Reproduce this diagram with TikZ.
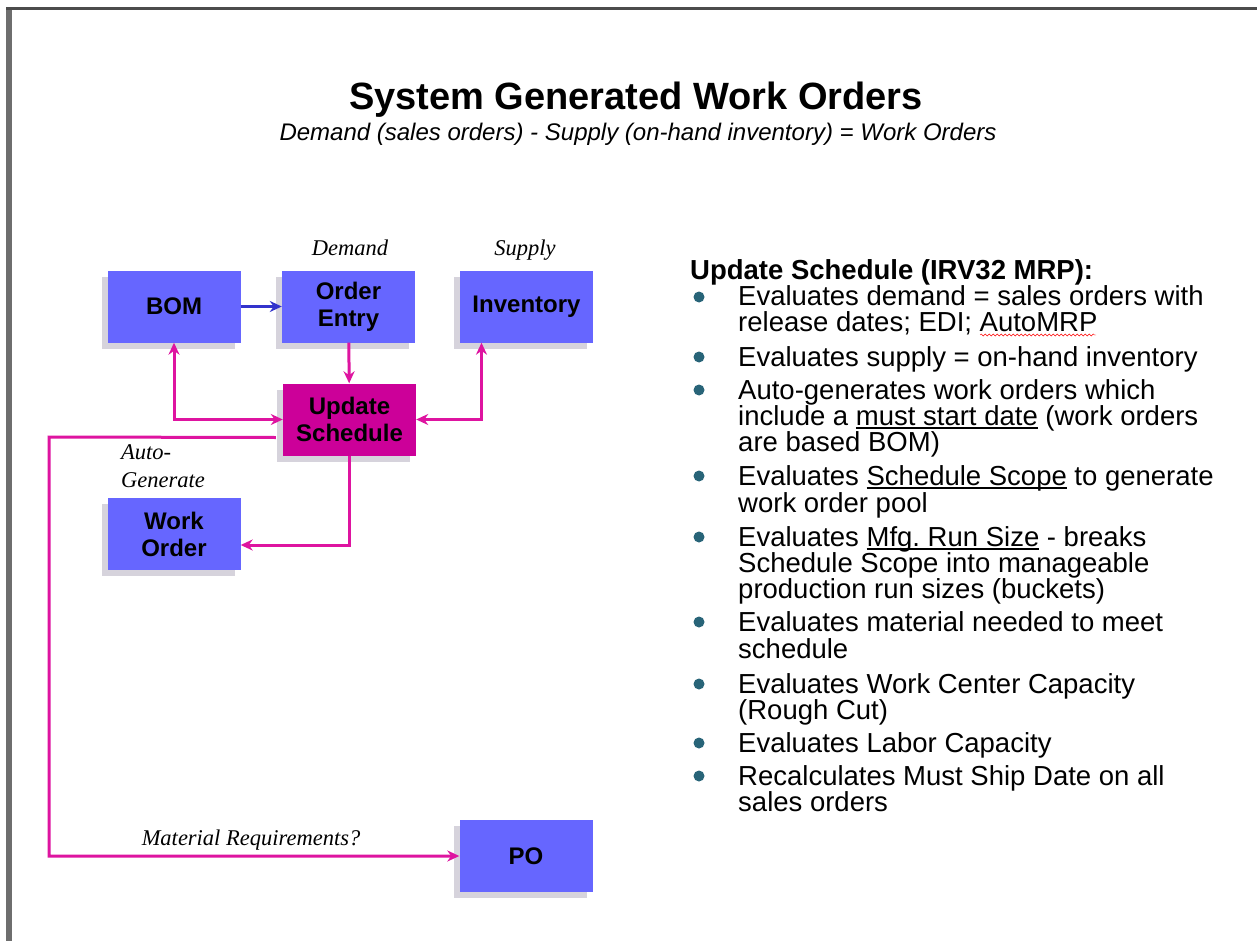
\documentclass[tikz,border=0pt]{standalone}
\usepackage{fontspec}
\setmainfont{Liberation Sans}
\newfontfamily\notefont{Liberation Serif}
\usetikzlibrary{shadows,arrows.meta,decorations.pathmorphing}

\definecolor{boxblue}{RGB}{102,102,255}
\definecolor{schedmag}{RGB}{204,0,153}
\definecolor{linkmag}{RGB}{222,20,160}
\definecolor{linkblue}{RGB}{51,51,204}
\definecolor{shadegray}{RGB}{214,211,220}
\definecolor{dotteal}{RGB}{40,100,120}
\definecolor{framegray}{RGB}{110,110,110}

% underline sitting just below the baseline
\newcommand{\undr}[1]{\setbox0\hbox{#1}\rlap{\rule[-3.5pt]{\wd0}{1.6pt}}\box0\relax}

\begin{document}
\begin{tikzpicture}[x=1pt,y=-1pt,>={Stealth[length=12pt,width=11pt]},
  blk/.style={fill=boxblue,minimum width=133pt,minimum height=72pt,inner sep=0pt,align=center,
    font=\fontsize{24}{27}\selectfont\bfseries,
    drop shadow={shadow xshift=-6pt,shadow yshift=-6pt,fill=shadegray,opacity=1}},
  pink/.style={draw=linkmag,line width=3pt},
  note/.style={font=\notefont\itshape\fontsize{22.5}{26}\selectfont,inner sep=0pt},
  bline/.style={anchor=base west,inner sep=0pt,font=\fontsize{27.5}{27.5}\selectfont}]
\useasboundingbox (0,0) rectangle (1257,941);
\fill[white] (0,0) rectangle (1257,941);
% slide frame
\fill[framegray] (6,7) rectangle (12,941);
\fill[black!70] (6,7) rectangle (1257,10);
% title
\node[anchor=base,font=\fontsize{38}{40}\selectfont\bfseries] (title) at (636,110) {System Generated Work Orders};
\node[anchor=base,font=\fontsize{24}{26}\selectfont\itshape] (sub) at (638,141) {Demand (sales orders) - Supply (on-hand inventory) = Work Orders};
% boxes
\node[blk] (bom) at (174,306.5) {BOM};
\node[blk] (entry) at (348.5,306.5) {Order\\Entry};
\node[blk] (inv) at (526.5,306.5) {Inventory};
\node[blk,fill=schedmag] (sched) at (349.5,419.5) {Update\\Schedule};
\node[blk] (wo) at (174,534) {Work\\Order};
\node[blk] (po) at (526,856) {PO};
\node[note,anchor=base] (dem) at (350,255) {Demand};
\node[note,anchor=base] (sup) at (525,255) {Supply};
\node[note,anchor=base west] (auto1) at (121,459) {Auto-};
\node[note,anchor=base west] (auto2) at (121,487) {Generate};
\node[note,anchor=base] (mreq) at (251,845) {Material Requirements?};
% links
\draw[->,linkblue,line width=2.5pt] (bom) -- (entry);
\draw[->,pink] (entry) -- (sched);
\draw[<->,pink] (bom) |- (sched);
\draw[<->,pink] ([xshift=-45pt]inv.south) |- (sched.east);
\draw[->,pink] (sched) |- ([yshift=-11pt]wo.east);
\coordinate (mrturn) at (49,437);
\draw[->,pink] ([xshift=-7pt,yshift=-18pt]sched.west) -- (mrturn) |- (po);
% bullet list
\node[bline,font=\fontsize{27.5}{27.5}\selectfont\bfseries] (head) at (690,279) {Update Schedule (IRV32 MRP):};
\foreach \y in {297,357,390,476,537,622,684,743,776}
  \fill[dotteal] (699,\y) circle (5.5pt);
\foreach \y/\t in {305/Evaluates demand = sales orders with, 331/release dates; EDI; AutoMRP,
    366/Evaluates supply = on-hand inventory, 399/Auto-generates work orders which,
    425/include a \undr{must start date} (work orders, 451/are based BOM),
    485/Evaluates \undr{Schedule Scope} to generate, 512/work order pool,
    546/Evaluates \undr{Mfg.\ Run Size} - breaks, 572/Schedule Scope into manageable,
    598/production run sizes (buckets), 631/Evaluates material needed to meet,
    658/schedule, 693/Evaluates Work Center Capacity, 719/(Rough Cut),
    752/Evaluates Labor Capacity, 785/Recalculates Must Ship Date on all, 811/sales orders}
  \node[bline] (ln\y) at (738,\y) {\t};
\draw[red,decorate,decoration={snake,amplitude=1pt,segment length=4pt}] (980,335) -- (1096,335);
\end{tikzpicture}
\end{document}
